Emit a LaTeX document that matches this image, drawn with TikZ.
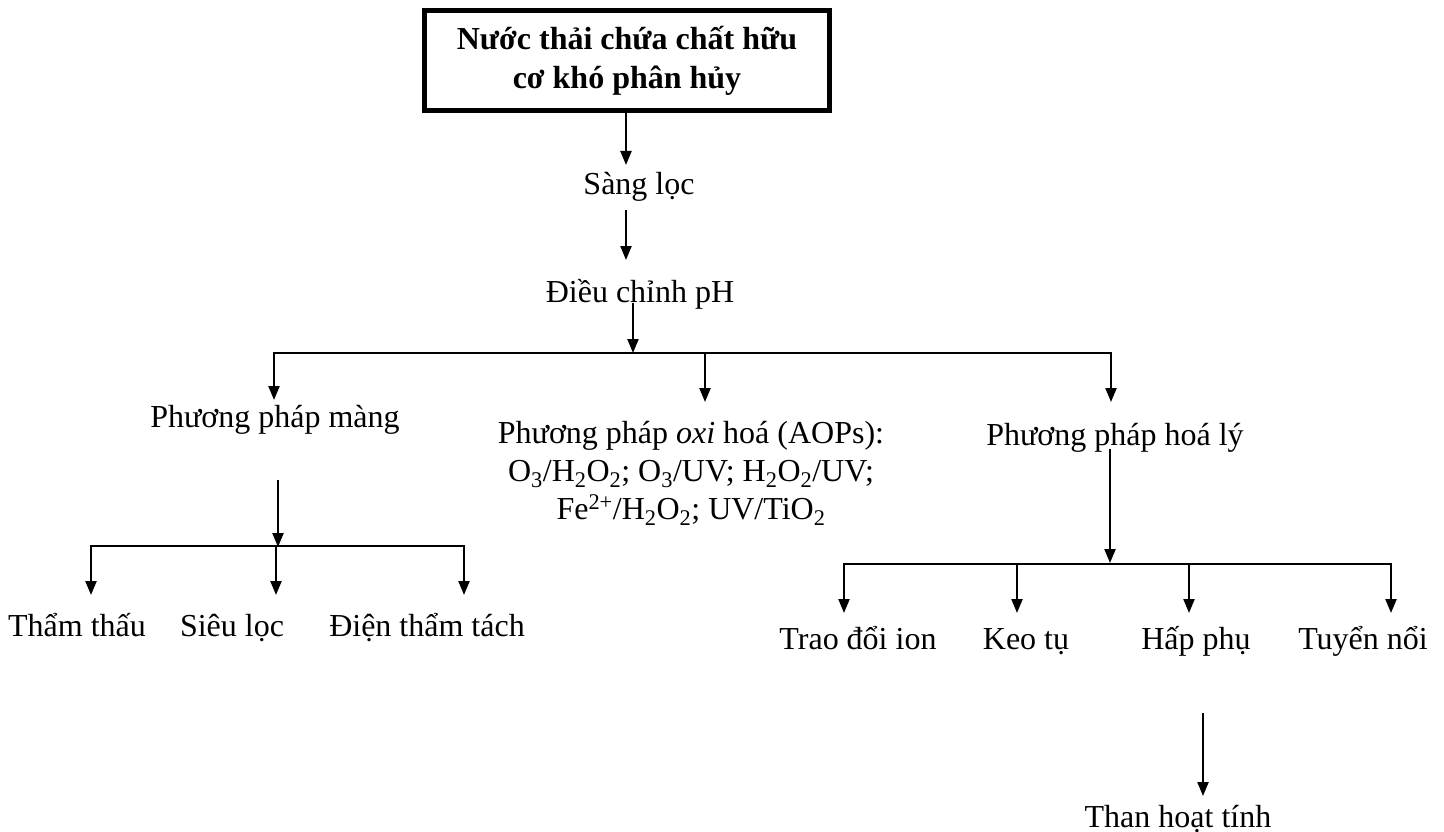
\documentclass[tikz,border=0pt]{standalone}
\usepackage{fontspec}
\setmainfont{Liberation Serif}
\usetikzlibrary{arrows.meta}
\tikzset{
  lbl/.style={anchor=base,inner sep=0pt,font=\fontsize{32}{38}\selectfont},
  conn/.style={line width=2.2pt},
  tip/.tip={Triangle[length=14pt,width=11pt]},
  arr/.style={conn,-tip},
  twoarr/.style={conn,tip-tip},
  titlebox/.style={draw,line width=5pt,minimum width=405pt,minimum height=100pt,
    align=center,inner sep=0pt,font=\fontsize{32}{39}\selectfont\bfseries}
}
\begin{document}
\begin{tikzpicture}[x=1pt,y=-1pt]
\useasboundingbox (0,0) rectangle (1444,832);

% title
\node[titlebox] (src) at (627,60.5) {Nước thải chứa chất hữu\\cơ khó phân hủy};

% text nodes
\node[lbl] (sang) at (639,195) {Sàng lọc};
\node[lbl] (dieu) at (640,302) {Điều chỉnh pH};
\node[lbl] (mang) at (275,427) {Phương pháp màng};
\node[lbl,align=center] (aop) at (691,519) {Phương pháp \textit{oxi} hoá (AOPs):\\
  O\textsubscript{3}/H\textsubscript{2}O\textsubscript{2}; O\textsubscript{3}/UV; H\textsubscript{2}O\textsubscript{2}/UV;\\
  Fe\textsuperscript{2+}/H\textsubscript{2}O\textsubscript{2}; UV/TiO\textsubscript{2}};
\node[lbl] (hoaly) at (1115,445) {Phương pháp hoá lý};

\node[lbl] (tham) at (77,636) {Thẩm thấu};
\node[lbl] (sieu) at (232,636) {Siêu lọc};
\node[lbl] (dien) at (427,636) {Điện thẩm tách};

\node[lbl] (trao) at (858,649) {Trao đổi ion};
\node[lbl] (keo) at (1026,649) {Keo tụ};
\node[lbl] (hap) at (1196,649) {Hấp phụ};
\node[lbl] (tuyen) at (1363,649) {Tuyển nổi};
\node[lbl] (than) at (1178,827) {Than hoạt tính};

% coordinates
\coordinate (a1e) at (626,165);
\coordinate (a2s) at (626,210);
\coordinate (a2e) at (626,260);
\coordinate (a3s) at (633,303);
\coordinate (a3e) at (633,353);
\coordinate (barL) at (274,353);
\coordinate (barM) at (705,353);
\coordinate (barR) at (1111,353);
\coordinate (mangT) at (274,400);
\coordinate (aopT) at (705,402);
\coordinate (hoalyT) at (1111,402);

\coordinate (m1s) at (278,480);
\coordinate (m1e) at (278,547);
\coordinate (mL) at (91,546);
\coordinate (mM) at (276,546);
\coordinate (mR) at (464,546);
\coordinate (thamT) at (91,595);
\coordinate (sieuT) at (276,595);
\coordinate (dienT) at (464,595);

\coordinate (h1s) at (1110,449);
\coordinate (h1e) at (1110,563);
\coordinate (hL) at (844,564);
\coordinate (hK) at (1017,564);
\coordinate (hH) at (1189,564);
\coordinate (hR) at (1391,564);
\coordinate (traoT) at (844,613);
\coordinate (keoT) at (1017,613);
\coordinate (hapT) at (1189,613);
\coordinate (tuyenT) at (1391,613);

\coordinate (t1s) at (1203,713);
\coordinate (thanT) at (1203,796);

% connectors
\draw[arr] (src.south -| a1e) -- (a1e);
\draw[arr] (a2s) -- (a2e);
\draw[arr] (a3s) -- (a3e);
\draw[twoarr] (mangT) -- (barL) -- (barR) -- (hoalyT);
\draw[arr] (barM) -- (aopT);

\draw[arr] (m1s) -- (m1e);
\draw[twoarr] (thamT) -- (mL) -- (mR) -- (dienT);
\draw[arr] (mM) -- (sieuT);

\draw[arr] (h1s) -- (h1e);
\draw[twoarr] (traoT) -- (hL) -- (hR) -- (tuyenT);
\draw[arr] (hK) -- (keoT);
\draw[arr] (hH) -- (hapT);

\draw[arr] (t1s) -- (thanT);
\end{tikzpicture}
\end{document}
